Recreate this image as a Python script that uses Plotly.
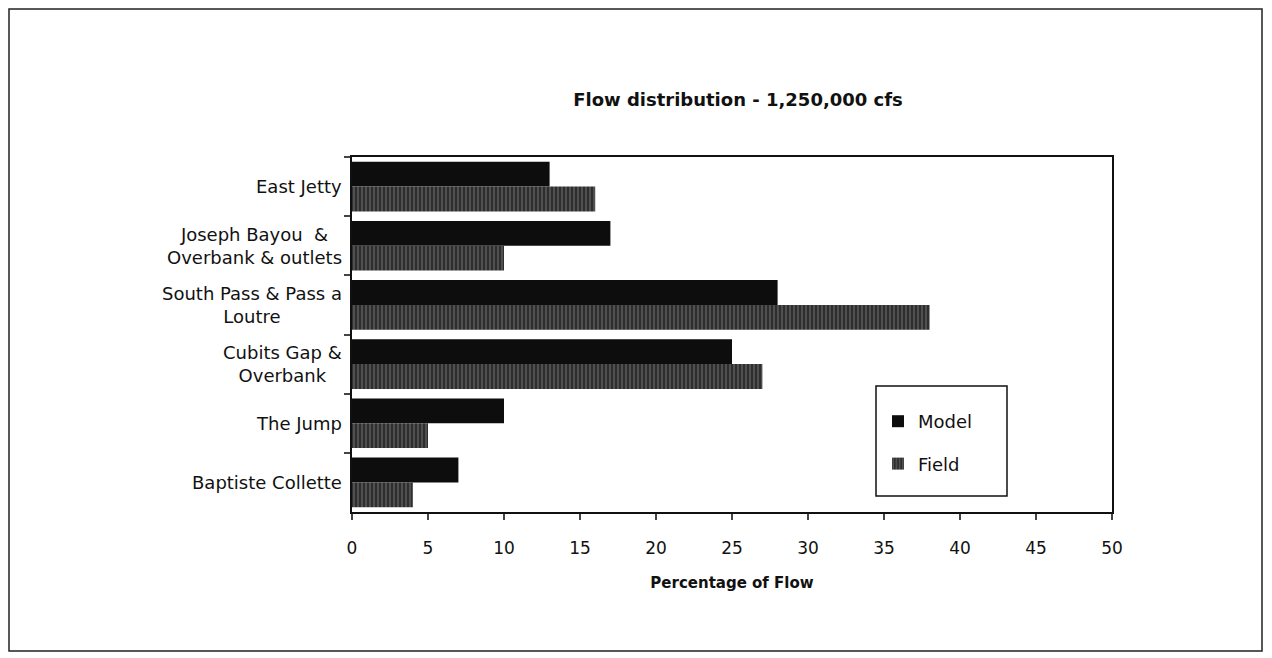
import plotly.graph_objects as go

categories = ["East Jetty", "Joseph Bayou  &<br>Overbank & outlets", "South Pass & Pass a<br>Loutre",
              "Cubits Gap &<br>Overbank", "The Jump", "Baptiste Collette"]
model = [13, 17, 28, 25, 10, 7]
field = [16, 10, 38, 27, 5, 4]
x_ticks = [0, 5, 10, 15, 20, 25, 30, 35, 40, 45, 50]

FONT = "DejaVu Sans"
OFF = 8  # page body margin
W, H = 1272 - OFF, 658 - OFF
L, R, T, B = 344, 160, 149, 146
pw, ph = W - L - R, H - T - B

def px(xp):  # page x -> paper
    return (xp - OFF - L) / pw

def py(yp):  # page y -> paper
    return (H - B - (yp - OFF)) / ph

fig = go.Figure()
fig.add_trace(go.Bar(y=categories, x=model, orientation="h", name="Model",
                     marker=dict(color="#0d0d0d", line=dict(width=0)), legendgroup="a"))
fig.add_trace(go.Bar(y=categories, x=field, orientation="h", name="Field",
                     marker=dict(color="#3a3a3a", line=dict(width=0),
                                 pattern=dict(shape="|", fgcolor="#a0a0a0", bgcolor="#2e2e2e",
                                              size=4, solidity=0.3, fillmode="overlay")),
                     legendgroup="b"))

for c in categories:
    fig.add_annotation(x=px(344), xref="paper", y=c, yref="y", text=c, showarrow=False,
                       xanchor="right", align="center", font=dict(family=FONT, size=18, color="#111"))

fig.update_layout(
    width=W, height=H,
    margin=dict(l=L, r=R, t=T, b=B, autoexpand=False),
    paper_bgcolor="white", plot_bgcolor="white",
    barmode="group", bargap=0.16, bargroupgap=0.0,
    font=dict(family=FONT, size=16, color="#111"),
    title=dict(text="<b>Flow distribution - 1,250,000 cfs</b>", xref="container",
               x=(738 - OFF) / W, xanchor="center",
               yref="container", y=1 - (100 - OFF) / H, yanchor="middle",
               font=dict(family=FONT, size=18, color="#111")),
    xaxis=dict(range=[0, 50], tickvals=x_ticks, ticks="outside", ticklen=6, tickwidth=1.5,
               showline=True, linewidth=1.5, linecolor="#111", mirror=True, showgrid=False,
               zeroline=False, tickfont=dict(family=FONT, size=17, color="#111"),
               ticklabelstandoff=14,
               title=dict(text="<b>Percentage of Flow</b>", font=dict(family=FONT, size=15, color="#111"),
                          standoff=20)),
    yaxis=dict(autorange="reversed", showticklabels=False, ticks="outside", ticklen=6,
               tickwidth=1.5, showline=True, linewidth=1.5, linecolor="#111", mirror=True,
               showgrid=False, zeroline=False, tickson="boundaries"),
    legend=dict(x=px(878), y=py(403), xanchor="left", yanchor="top", bgcolor="rgba(0,0,0,0)",
                borderwidth=0, font=dict(family=FONT, size=18, color="#111"),
                tracegroupgap=16, traceorder="grouped", itemwidth=30),
    showlegend=True,
)

# legend box
fig.add_shape(type="rect", xref="paper", yref="paper", x0=px(876), x1=px(1007), y0=py(496), y1=py(386),
              line=dict(color="#111", width=1.5), fillcolor="white", layer="below")

# outer frame of the figure
fig.add_shape(type="rect", xref="paper", yref="paper", x0=px(9), x1=px(1262), y0=py(651), y1=py(9),
              line=dict(color="#222", width=1.5), fillcolor="rgba(0,0,0,0)", layer="below")

fig.write_html("out.html")
